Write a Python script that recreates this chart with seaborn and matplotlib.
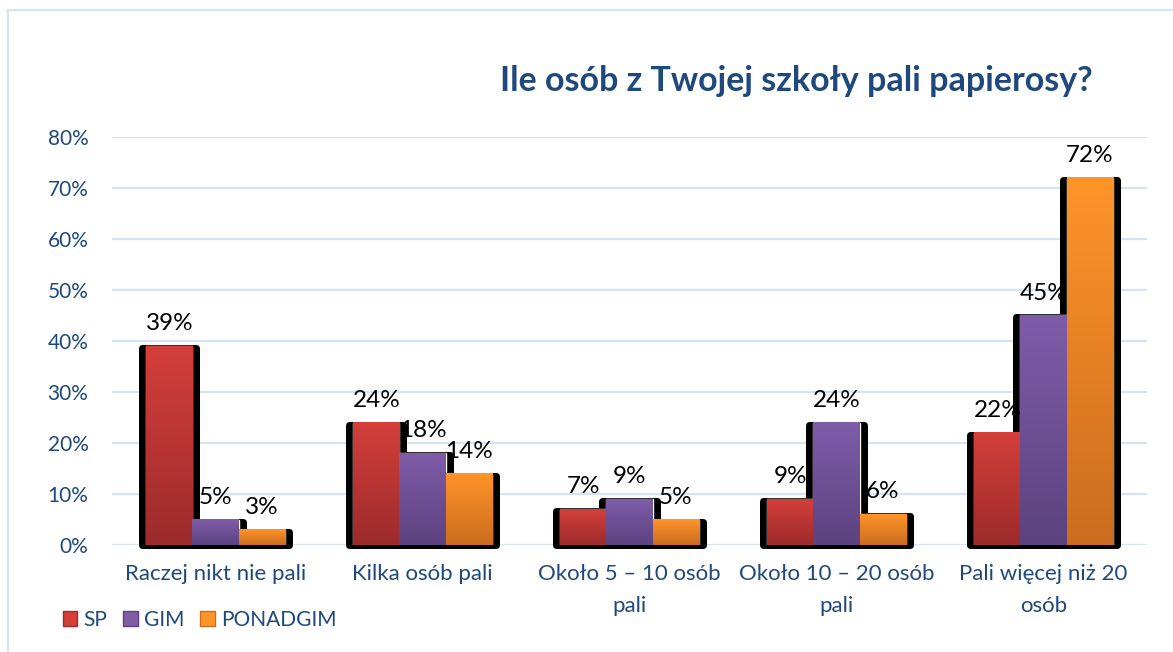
import numpy as np
import pandas as pd
import matplotlib
matplotlib.use("Agg")
import matplotlib.pyplot as plt
import seaborn as sns
from matplotlib.colors import LinearSegmentedColormap
from matplotlib.patches import Rectangle, Patch
from matplotlib.lines import Line2D
from matplotlib.ticker import PercentFormatter

# --- data -------------------------------------------------------------
categories = [
    "Raczej nikt nie pali",
    "Kilka osób pali",
    "Około 5 – 10 osób\npali",
    "Około 10 – 20 osób\npali",
    "Pali więcej niż 20\nosób",
]
groups = ["SP", "GIM", "PONADGIM"]
sp = [0.39, 0.24, 0.07, 0.09, 0.22]
gim = [0.05, 0.18, 0.09, 0.24, 0.45]
ponadgim = [0.03, 0.14, 0.05, 0.06, 0.72]
yticks = [0.0, 0.1, 0.2, 0.3, 0.4, 0.5, 0.6, 0.7, 0.8]

df = pd.DataFrame({
    "kategoria": categories * 3,
    "szkoła": [g for g in groups for _ in categories],
    "odsetek": sp + gim + ponadgim,
})

# --- style ------------------------------------------------------------
sns.set_theme(style="white")
plt.rcParams["font.family"] = ["Lato", "DejaVu Sans"]

BLUE = "#1F497D"
GRID = "#D7E3F2"
top_colors = {"SP": "#D43F3A", "GIM": "#7F5CA8", "PONADGIM": "#FF9429"}
bottom_colors = {"SP": "#9C2B2B", "GIM": "#5C4280", "PONADGIM": "#CB6C1F"}

W, H, DPI = 1173, 652, 100
fig = plt.figure(figsize=(W / DPI, H / DPI), dpi=DPI)
ax_left, ax_right, ax_top, ax_bottom = 112, 1147, 137, 545
ax = fig.add_axes([ax_left / W, 1 - ax_bottom / H,
                   (ax_right - ax_left) / W, (ax_bottom - ax_top) / H])

sns.barplot(data=df, x="kategoria", y="odsetek", hue="szkoła",
            hue_order=groups, order=categories, palette=top_colors,
            width=0.67, saturation=1, legend=False, ax=ax, zorder=3)

ax.set_xlim(-0.5, len(categories) - 0.5)
ax.set_ylim(0, 0.8)

# pixel -> data unit conversion for the decorative shadows
px_x = (len(categories)) / (ax_right - ax_left)
px_y = 0.8 / (ax_bottom - ax_top)

for grp, container in zip(groups, ax.containers):
    cmap = LinearSegmentedColormap.from_list(grp, [bottom_colors[grp], top_colors[grp]])
    for bar, val in zip(container.patches, df[df["szkoła"] == grp]["odsetek"]):
        x, w, h = bar.get_x(), bar.get_width(), bar.get_height()
        # black rounded backing behind every bar
        shadow = Rectangle((x - 4 * px_x, 0), w + 8 * px_x, h - 2 * px_y,
                           facecolor="black", edgecolor="black",
                           linewidth=7 * 72 / DPI, joinstyle="round",
                           zorder=2.5, clip_on=False)
        ax.add_patch(shadow)
        # vertical gradient fill
        grad = np.linspace(0, 1, 256).reshape(-1, 1)
        ax.imshow(grad, cmap=cmap, origin="lower", aspect="auto",
                  extent=[x, x + w, 0, h], zorder=3.2, interpolation="bilinear")
        ax.annotate(f"{val * 100:.0f}%", (x + w / 2, h), xytext=(0, 11.5),
                    textcoords="offset points", ha="center", va="baseline",
                    fontsize=17.5, color="black", zorder=5)

ax.set_xlim(-0.5, len(categories) - 0.5)
ax.set_ylim(0, 0.8)
ax.set_aspect("auto")

ax.set_yticks(yticks)
ax.yaxis.set_major_formatter(PercentFormatter(1.0, decimals=0))
ax.grid(axis="y", color=GRID, linewidth=1.6)
ax.set_axisbelow(True)
for s in ax.spines.values():
    s.set_visible(False)
ax.tick_params(axis="y", length=0, pad=17, labelsize=15, labelcolor=BLUE)
ax.tick_params(axis="x", length=0, pad=14, labelsize=16, labelcolor=BLUE)
for lbl in ax.get_xticklabels():
    lbl.set_linespacing(1.75)
ax.set_xlabel("")
ax.set_ylabel("")

fig.text(796 / W, 1 - 81 / H, "Ile osób z Twojej szkoły pali papierosy?",
         ha="center", va="center", fontsize=24.5, fontweight="bold", color=BLUE)

handles = [Patch(facecolor=top_colors[g], edgecolor=bottom_colors[g]) for g in groups]
fig.legend(handles, groups, loc="center left", bbox_to_anchor=(44 / W, 1 - 620 / H),
           ncol=3, frameon=False, fontsize=15, labelcolor=BLUE,
           handlelength=0.7, handleheight=0.7, handletextpad=0.3,
           columnspacing=0.75)

# light outer frame
fig.add_artist(Line2D([8 / W, 8 / W], [0, 1 - 10 / H], color=GRID, linewidth=1.6))
fig.add_artist(Line2D([8 / W, 1], [1 - 10 / H, 1 - 10 / H], color=GRID, linewidth=1.6))

fig.savefig("out.png", dpi=DPI)
